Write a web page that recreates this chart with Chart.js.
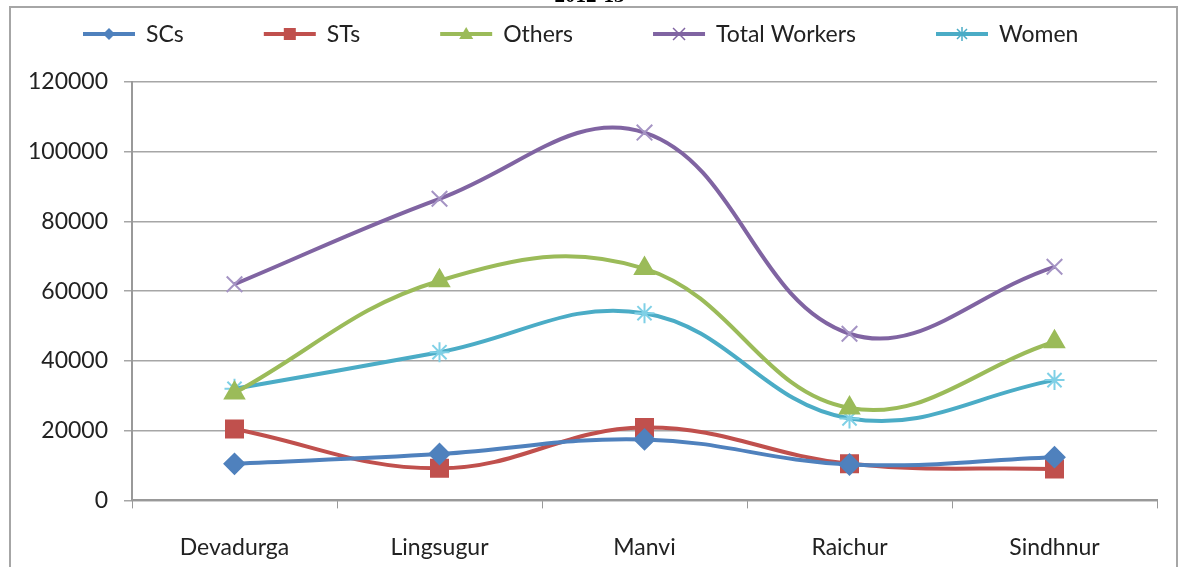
<!DOCTYPE html>
<html>
<head>
<meta charset="utf-8">
<script src="https://cdn.jsdelivr.net/npm/chart.js@4/dist/chart.umd.min.js"></script>
<style>
  html, body { margin: 0; padding: 0; background: #fff; overflow: hidden; }
  #wrap { position: relative; width: 1179px; height: 567px; }
  #titulo { position: absolute; left: 0; width: 1179px; top: -17px; text-align: center;
            font: bold 21px 'Liberation Serif', serif; color: #000; }
</style>
</head>
<body>
<div id="wrap">
  <canvas id="grafico" width="1179" height="567"></canvas>
  <div id="titulo">2012-13</div>
</div>
<script>
// categorias y series
const categorias = ['Devadurga', 'Lingsugur', 'Manvi', 'Raichur', 'Sindhnur'];
const scs = [10500, 13300, 17500, 10300, 12400];
const sts = [20500, 9200, 20900, 10500, 9000];
const otros = [30800, 63000, 66500, 26500, 45500];
const totalTrabajadores = [62000, 86500, 105500, 47800, 67000];
const mujeres = [32000, 42500, 53700, 23500, 34500];
const ticksY = [0, 20000, 40000, 60000, 80000, 100000, 120000];

const FUENTE = "Lato, 'Open Sans', sans-serif";

const series = [
    { label: 'SCs', data: scs, color: '#4F81BD', marca: '#4F81BD', estilo: 'rectRot', radio: 10 },
    { label: 'STs', data: sts, color: '#C0504D', marca: '#C0504D', estilo: 'rect', radio: 12 },
    { label: 'Others', data: otros, color: '#9BBB59', marca: '#9BBB59', estilo: 'triangle', radio: 11 },
    { label: 'Total Workers', data: totalTrabajadores, color: '#8064A2', marca: '#a594c4', estilo: 'crossRot', radio: 11 },
    { label: 'Women', data: mujeres, color: '#4BACC6', marca: '#7fd0e6', estilo: 'star', radio: 10 }
];

// marcador pequeño para la leyenda
function marcaLeyenda(ctx, estilo, x, y, color) {
    const r = 6;
    ctx.fillStyle = color; ctx.strokeStyle = color; ctx.lineWidth = 1.5;
    ctx.beginPath();
    if (estilo === 'rectRot') {
        ctx.moveTo(x, y - r); ctx.lineTo(x + r, y); ctx.lineTo(x, y + r); ctx.lineTo(x - r, y); ctx.closePath(); ctx.fill();
    } else if (estilo === 'rect') {
        ctx.fillRect(x - 6, y - 6, 12, 12);
    } else if (estilo === 'triangle') {
        ctx.moveTo(x, y - 7); ctx.lineTo(x + 7, y + 5); ctx.lineTo(x - 7, y + 5); ctx.closePath(); ctx.fill();
    } else if (estilo === 'crossRot') {
        ctx.moveTo(x - 6, y - 6); ctx.lineTo(x + 6, y + 6); ctx.moveTo(x + 6, y - 6); ctx.lineTo(x - 6, y + 6); ctx.stroke();
    } else {
        ctx.moveTo(x, y - 7); ctx.lineTo(x, y + 7);
        ctx.moveTo(x - 5, y - 5); ctx.lineTo(x + 5, y + 5); ctx.moveTo(x + 5, y - 5); ctx.lineTo(x - 5, y + 5); ctx.stroke();
    }
}

const marcoYLeyenda = {
    id: 'marcoYLeyenda',
    beforeDraw(chart) {
        const ctx = chart.ctx;
        ctx.save();
        ctx.fillStyle = '#fff';
        ctx.fillRect(0, 0, chart.width, chart.height);
        ctx.strokeStyle = '#a6a6a6'; ctx.lineWidth = 2;
        ctx.strokeRect(10, 7, 1167, 600);
        ctx.restore();
    },
    afterDraw(chart) {
        const ctx = chart.ctx;
        ctx.save();
        ctx.font = '23px ' + FUENTE;
        ctx.textBaseline = 'middle';
        let x = 83;
        const y = 34;
        chart.data.datasets.forEach((d, i) => {
            const s = series[i];
            ctx.strokeStyle = s.color; ctx.lineWidth = 4;
            ctx.beginPath(); ctx.moveTo(x, y); ctx.lineTo(x + 52, y); ctx.stroke();
            marcaLeyenda(ctx, s.estilo, x + 26, y, s.color);
            ctx.fillStyle = '#222';
            ctx.fillText(d.label, x + 63, y + 1);
            x += 63 + ctx.measureText(d.label).width + 80;
        });
        ctx.restore();
    }
};

new Chart(document.getElementById('grafico'), {
    type: 'line',
    data: {
        labels: categorias,
        datasets: series.map(s => ({
            label: s.label,
            data: s.data,
            borderColor: s.color,
            backgroundColor: s.marca,
            pointBorderColor: s.marca,
            pointBackgroundColor: s.marca,
            pointStyle: s.estilo,
            pointRadius: s.radio,
            pointBorderWidth: 2,
            borderWidth: 4,
            tension: 0.4,
            fill: false
        }))
    },
    options: {
        responsive: false,
        devicePixelRatio: 1,
        animation: false,
        layout: { padding: { left: 12, right: 22, top: 82, bottom: -19 } },
        plugins: {
            tooltip: { enabled: false },
            legend: { display: false }
        },
        scales: {
            x: {
                offset: true,
                grid: { drawOnChartArea: false, drawTicks: true, tickLength: 8, color: '#999', offset: true },
                border: { color: '#999', width: 2 },
                ticks: { color: '#222', padding: 25, font: { family: FUENTE, size: 23 } }
            },
            y: {
                min: 0, max: 120000,
                afterBuildTicks(scale) { scale.ticks = ticksY.map(v => ({ value: v })); },
                afterFit(scale) { scale.width = 120; },
                grid: { color: '#a6a6a6', lineWidth: 1.5, tickLength: 8 },
                border: { color: '#999', width: 2 },
                ticks: { color: '#222', padding: 16, font: { family: FUENTE, size: 23 }, callback: v => String(v) }
            }
        }
    },
    plugins: [marcoYLeyenda]
});
</script>
</body>
</html>
